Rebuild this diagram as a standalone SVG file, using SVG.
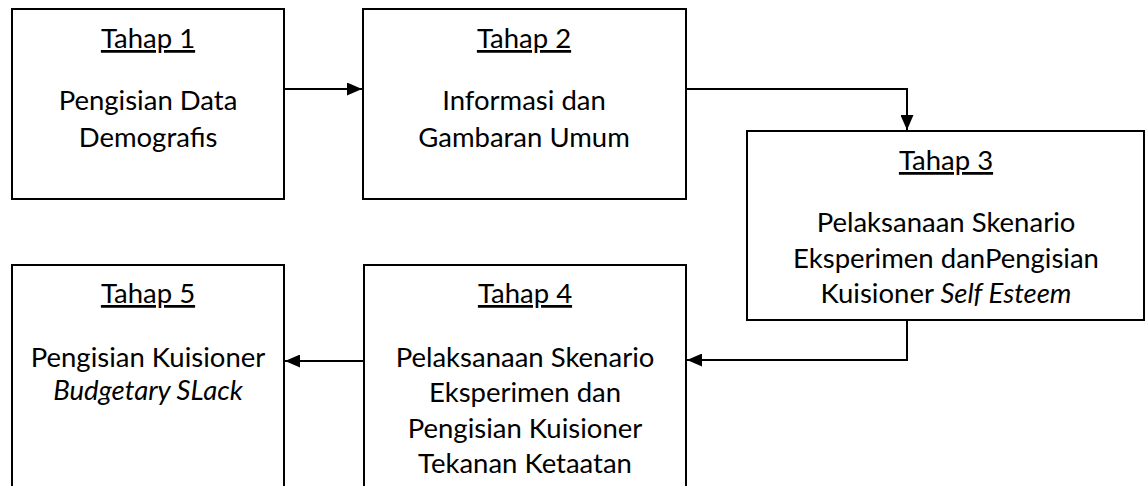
<svg xmlns="http://www.w3.org/2000/svg" width="1146" height="486" viewBox="0 0 1146 486">
<style>
.box{fill:#fff;stroke:#000;stroke-width:2}
.t{font-family:Lato,"Liberation Sans",sans-serif;font-size:27.5px;fill:#000;text-anchor:middle}
.h{text-decoration:underline}
.i{font-style:italic}
.c{fill:none;stroke:#000;stroke-width:2}
</style>
<defs>
<marker id="arr" viewBox="0 0 10 10" refX="10" refY="5" markerWidth="15" markerHeight="13" markerUnits="userSpaceOnUse" orient="auto" preserveAspectRatio="none">
<path d="M0,0 L10,5 L0,10 Z" fill="#000"/>
</marker>
</defs>
<rect width="1146" height="486" fill="#fff"/>
<g id="connectors">
<path class="c" d="M284,89 H362" marker-end="url(#arr)"/>
<path class="c" d="M686,89 H907 V130" marker-end="url(#arr)"/>
<path class="c" d="M907,320 V360 H687" marker-end="url(#arr)"/>
<path class="c" d="M364,361 H285" marker-end="url(#arr)"/>
</g>
<g id="tahap1">
<rect class="box" x="12" y="9" width="272" height="190"/>
<text class="t h" x="148" y="48">Tahap 1</text>
<text class="t" x="148" y="110">Pengisian Data</text>
<text class="t" x="148" y="147">Demografis</text>
</g>
<g id="tahap2">
<rect class="box" x="363" y="9" width="323" height="190"/>
<text class="t h" x="524" y="48">Tahap 2</text>
<text class="t" x="524" y="110">Informasi dan</text>
<text class="t" x="524" y="147">Gambaran Umum</text>
</g>
<g id="tahap3">
<rect class="box" x="747" y="131" width="397" height="189"/>
<text class="t h" x="946" y="170">Tahap 3</text>
<text class="t" x="946" y="232">Pelaksanaan Skenario</text>
<text class="t" x="946" y="268">Eksperimen danPengisian</text>
<text class="t" x="946" y="303">Kuisioner <tspan class="i">Self Esteem</tspan></text>
</g>
<g id="tahap4">
<rect class="box" x="364" y="265" width="322" height="240"/>
<text class="t h" x="525" y="303">Tahap 4</text>
<text class="t" x="525" y="367">Pelaksanaan Skenario</text>
<text class="t" x="525" y="402">Eksperimen dan</text>
<text class="t" x="525" y="438">Pengisian Kuisioner</text>
<text class="t" x="525" y="473">Tekanan Ketaatan</text>
</g>
<g id="tahap5">
<rect class="box" x="12" y="265" width="272" height="240"/>
<text class="t h" x="148" y="303">Tahap 5</text>
<text class="t" x="148" y="367">Pengisian Kuisioner</text>
<text class="t i" x="148" y="400">Budgetary SLack</text>
</g>
</svg>
